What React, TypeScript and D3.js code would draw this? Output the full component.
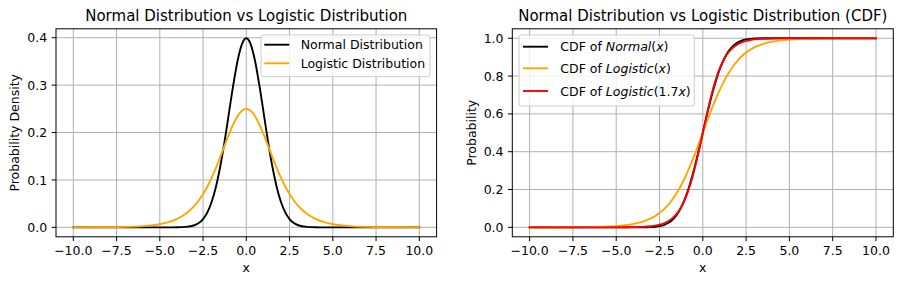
import React from 'react';
import * as d3 from 'd3';

// Sample positions along the x axis
const xs = [-10, -9, -8, -7, -6, -5.5, -5, -4.5, -4, -3.5, -3, -2.75, -2.5, -2.25, -2, -1.75, -1.5, -1.25, -1, -0.75, -0.5, -0.25, 0,
  0.25, 0.5, 0.75, 1, 1.25, 1.5, 1.75, 2, 2.25, 2.5, 2.75, 3, 3.5, 4, 4.5, 5, 5.5, 6, 7, 8, 9, 10];

// Densities
const normalPdf = [0, 0, 0, 0, 0, 0, 0, 0, 0.0001, 0.0009, 0.0044, 0.0091, 0.0175, 0.0317, 0.054, 0.0863, 0.1295, 0.1826, 0.242, 0.3011, 0.3521, 0.3867, 0.3989,
  0.3867, 0.3521, 0.3011, 0.242, 0.1826, 0.1295, 0.0863, 0.054, 0.0317, 0.0175, 0.0091, 0.0044, 0.0009, 0.0001, 0, 0, 0, 0, 0, 0, 0, 0];
const logisticPdf = [0.0000, 0.0001, 0.0003, 0.0009, 0.0025, 0.0041, 0.0066, 0.0109, 0.0177, 0.0285, 0.0452, 0.0565, 0.0701, 0.0863, 0.105, 0.1261, 0.1491, 0.173, 0.1966, 0.2179, 0.235, 0.2461, 0.25,
  0.2461, 0.235, 0.2179, 0.1966, 0.173, 0.1491, 0.1261, 0.105, 0.0863, 0.0701, 0.0565, 0.0452, 0.0285, 0.0177, 0.0109, 0.0066, 0.0041, 0.0025, 0.0009, 0.0003, 0.0001, 0.0000];

// Cumulative distributions
const normalCdf = [0, 0, 0, 0, 0, 0, 0, 0, 0, 0.0002, 0.0013, 0.003, 0.0062, 0.0122, 0.0228, 0.0401, 0.0668, 0.1056, 0.1587, 0.2266, 0.3085, 0.4013, 0.5,
  0.5987, 0.6915, 0.7734, 0.8413, 0.8944, 0.9332, 0.9599, 0.9772, 0.9878, 0.9938, 0.997, 0.9987, 0.9998, 1, 1, 1, 1, 1, 1, 1, 1, 1];
const logisticCdf = [0.0000, 0.0001, 0.0003, 0.0009, 0.0025, 0.0041, 0.0067, 0.011, 0.018, 0.0293, 0.0474, 0.0601, 0.0759, 0.0953, 0.1192, 0.148, 0.1824, 0.2227, 0.2689, 0.3208, 0.3775, 0.4378, 0.5,
  0.5622, 0.6225, 0.6792, 0.7311, 0.7773, 0.8176, 0.852, 0.8808, 0.9047, 0.9241, 0.9399, 0.9526, 0.9707, 0.982, 0.989, 0.9933, 0.9959, 0.9975, 0.9991, 0.9997, 0.9999, 1.0];
const scaledLogisticCdf = [0, 0, 0, 0, 0, 0.0001, 0.0002, 0.0005, 0.0011, 0.0026, 0.0061, 0.0092, 0.0141, 0.0213, 0.0323, 0.0486, 0.0724, 0.1067, 0.1545, 0.2184, 0.2994, 0.3953, 0.5,
  0.6047, 0.7006, 0.7816, 0.8455, 0.8933, 0.9276, 0.9514, 0.9677, 0.9787, 0.9859, 0.9908, 0.9939, 0.9974, 0.9989, 0.9995, 0.9998, 0.9999, 1, 1, 1, 1, 1];

const xTicks = [-10, -7.5, -5, -2.5, 0, 2.5, 5, 7.5, 10];
const pdfTicks = [0, 0.1, 0.2, 0.3, 0.4];
const cdfTicks = [0, 0.2, 0.4, 0.6, 0.8, 1.0];

const W = 901;
const H = 285;
const FONT = '"DejaVu Sans", sans-serif';
const FS = 12.5;
const TITLE_FS = 15;
const TOP = 28.8;
const BOTTOM = 236.8;
const TICK = 4.375;
const PAD = 4.375;

type Series = { values: number[]; color: string };
type LegendItem = { color: string; label: React.ReactNode };

function Panel(props: {
  left: number; right: number; title: string; ylabel: string; ylabelX: number;
  yTicks: number[]; series: Series[]; legend: LegendItem[];
  legendBox: { x: number; y: number; w: number; h: number; rows: number[]; lineX: number; textX: number };
}) {
  const { left, right, title, ylabel, ylabelX, yTicks, series, legend, legendBox } = props;
  const xExt = d3.extent(xs) as [number, number];
  const xPad = (xExt[1] - xExt[0]) * 0.05;
  const x = d3.scaleLinear().domain([xExt[0] - xPad, xExt[1] + xPad]).range([left, right]);
  const allY = series.flatMap((s) => s.values);
  const yExt = d3.extent(allY) as [number, number];
  const yPad = (yExt[1] - yExt[0]) * 0.05;
  const y = d3.scaleLinear().domain([yExt[0] - yPad, yExt[1] + yPad]).range([BOTTOM, TOP]);
  const fmt = d3.format('.1f');
  const line = (vals: number[]) =>
    d3.line<number>().x((_, i) => x(xs[i])).y((v) => y(v)).curve(d3.curveMonotoneX)(vals) || '';
  const cx = (left + right) / 2;
  return (
    <g>
      <rect x={left} y={TOP} width={right - left} height={BOTTOM - TOP} fill="#fff" />
      {xTicks.map((t) => (
        <line key={'gx' + t} x1={x(t)} x2={x(t)} y1={TOP} y2={BOTTOM} stroke="#b0b0b0" strokeWidth={1} />
      ))}
      {yTicks.map((t) => (
        <line key={'gy' + t} x1={left} x2={right} y1={y(t)} y2={y(t)} stroke="#b0b0b0" strokeWidth={1} />
      ))}
      <clipPath id={'clip' + Math.round(left)}>
        <rect x={left} y={TOP} width={right - left} height={BOTTOM - TOP} />
      </clipPath>
      <g clipPath={`url(#clip${Math.round(left)})`}>
        {series.map((s, i) => (
          <path key={i} d={line(s.values)} fill="none" stroke={s.color} strokeWidth={1.9} strokeLinejoin="round" strokeLinecap="square" />
        ))}
      </g>
      <rect x={left} y={TOP} width={right - left} height={BOTTOM - TOP} fill="none" stroke="#000" strokeWidth={1} />
      {xTicks.map((t) => (
        <g key={'tx' + t}>
          <line x1={x(t)} x2={x(t)} y1={BOTTOM} y2={BOTTOM + TICK} stroke="#000" strokeWidth={1} />
          <text x={x(t)} y={BOTTOM + TICK + PAD + 9.3} textAnchor="middle" fontSize={FS} fontFamily={FONT} fill="#000">{fmt(t)}</text>
        </g>
      ))}
      {yTicks.map((t) => (
        <g key={'ty' + t}>
          <line x1={left - TICK} x2={left} y1={y(t)} y2={y(t)} stroke="#000" strokeWidth={1} />
          <text x={left - TICK - PAD} y={y(t) + 4.6} textAnchor="end" fontSize={FS} fontFamily={FONT} fill="#000">{fmt(t)}</text>
        </g>
      ))}
      <text x={cx} y={271.5} textAnchor="middle" fontSize={FS} fontFamily={FONT} fill="#000">x</text>
      <text transform={`translate(${ylabelX},${(TOP + BOTTOM) / 2}) rotate(-90)`} textAnchor="middle" fontSize={FS} fontFamily={FONT} fill="#000">{ylabel}</text>
      <text x={cx} y={20.7} textAnchor="middle" fontSize={TITLE_FS} fontFamily={FONT} fill="#000">{title}</text>
      <rect x={legendBox.x} y={legendBox.y} width={legendBox.w} height={legendBox.h} rx={2.5} fill="#fff" fillOpacity={0.8} stroke="#cccccc" strokeWidth={1} />
      {legend.map((item, i) => (
        <g key={'lg' + i}>
          <line x1={legendBox.lineX} x2={legendBox.lineX + 25} y1={legendBox.rows[i]} y2={legendBox.rows[i]} stroke={item.color} strokeWidth={1.9} />
          <text x={legendBox.textX} y={legendBox.rows[i] + 4.6} fontSize={FS} fontFamily={FONT} fill="#000">{item.label}</text>
        </g>
      ))}
    </g>
  );
}

export default function App() {
  React.useEffect(() => {
    document.body.style.margin = '0';
  }, []);
  const it = { fontStyle: 'italic' as const };
  return (
    <svg width={W} height={H} style={{ display: 'block' }}>
      <rect width={W} height={H} fill="#fff" />
      <Panel
        left={56}
        right={436.6}
        title="Normal Distribution vs Logistic Distribution"
        ylabel="Probability Density"
        ylabelX={18.5}
        yTicks={pdfTicks}
        series={[
          { values: normalPdf, color: '#000000' },
          { values: logisticPdf, color: '#ffa500' },
        ]}
        legend={[
          { color: '#000000', label: 'Normal Distribution' },
          { color: '#ffa500', label: 'Logistic Distribution' },
        ]}
        legendBox={{ x: 261, y: 35, w: 169, h: 41.7, rows: [44.7, 63.3], lineX: 264.3, textX: 300.7 }}
      />
      <Panel
        left={512.3}
        right={893.3}
        title="Normal Distribution vs Logistic Distribution (CDF)"
        ylabel="Probability"
        ylabelX={476}
        yTicks={cdfTicks}
        series={[
          { values: normalCdf, color: '#000000' },
          { values: logisticCdf, color: '#ffa500' },
          { values: scaledLogisticCdf, color: '#ff0000' },
        ]}
        legend={[
          { color: '#000000', label: <>CDF of <tspan style={it}>Normal</tspan>(<tspan style={it}>x</tspan>)</> },
          { color: '#ffa500', label: <>CDF of <tspan style={it}>Logistic</tspan>(<tspan style={it}>x</tspan>)</> },
          { color: '#ff0000', label: <>CDF of <tspan style={it}>Logistic</tspan>(1.7<tspan style={it}>x</tspan>)</> },
        ]}
        legendBox={{ x: 519, y: 35, w: 175.3, h: 71, rows: [46.7, 68.3, 91], lineX: 523, textX: 560.3 }}
      />
    </svg>
  );
}
